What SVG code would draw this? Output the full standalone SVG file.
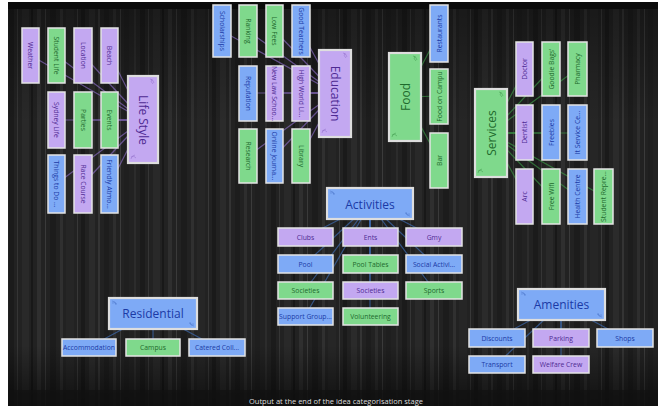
<svg xmlns="http://www.w3.org/2000/svg" width="662" height="410" viewBox="0 0 662 410">
<defs>
<pattern id="wood" x="0" y="0" width="131" height="410" patternUnits="userSpaceOnUse">
<rect width="131" height="410" fill="#222"/>
<rect x="3" width="2" height="410" fill="#2c2c2c"/>
<rect x="9" width="5" height="410" fill="#1b1b1b"/>
<rect x="17" width="1" height="410" fill="#353535"/>
<rect x="22" width="7" height="410" fill="#292929"/>
<rect x="31" width="2" height="410" fill="#181818"/>
<rect x="37" width="4" height="410" fill="#2f2f2f"/>
<rect x="45" width="1" height="410" fill="#3a3a3a"/>
<rect x="50" width="6" height="410" fill="#1c1c1c"/>
<rect x="60" width="3" height="410" fill="#303030"/>
<rect x="66" width="8" height="410" fill="#262626"/>
<rect x="77" width="1" height="410" fill="#383838"/>
<rect x="81" width="4" height="410" fill="#1a1a1a"/>
<rect x="89" width="6" height="410" fill="#2b2b2b"/>
<rect x="98" width="2" height="410" fill="#343434"/>
<rect x="104" width="5" height="410" fill="#1d1d1d"/>
<rect x="113" width="3" height="410" fill="#2e2e2e"/>
<rect x="120" width="1" height="410" fill="#3b3b3b"/>
<rect x="124" width="5" height="410" fill="#1f1f1f"/>
</pattern>
<linearGradient id="shade" x1="0" y1="0" x2="0" y2="1">
<stop offset="0" stop-color="#000" stop-opacity="0.35"/>
<stop offset="0.3" stop-color="#000" stop-opacity="0"/>
<stop offset="0.85" stop-color="#000" stop-opacity="0"/>
<stop offset="1" stop-color="#000" stop-opacity="0.55"/>
</linearGradient>
</defs>
<style>
.n rect{stroke:#e4e4e4;stroke-width:1.5}
.c rect{stroke:#dedede;stroke-width:2.2}
.p rect{fill:#c3a8f1}.p text{fill:#4e2a93}
.g rect{fill:#7fd98c}.g text{fill:#1e6a2c}
.b rect{fill:#7eaaf6}.b text{fill:#1b3aa6}
text{font-family:"Open Sans","Liberation Sans",sans-serif;text-anchor:middle;dominant-baseline:central}
.n text{font-size:6.8px}
.c text{font-size:12px}
.orn{fill:none;stroke-width:0.7;opacity:0.7}
.p .orn{stroke:#8e6cc8}.g .orn{stroke:#3f9a4c}.b .orn{stroke:#4a74c8}
.lp{stroke:#8a6cc4;stroke-opacity:0.65;stroke-width:1.2}
.lg{stroke:#3c9a47;stroke-opacity:0.65;stroke-width:1.2}
.lb{stroke:#3f6fb8;stroke-opacity:0.65;stroke-width:1.2}
</style>
<rect width="662" height="410" fill="#ffffff"/>
<rect x="8" y="2" width="650" height="404" fill="url(#wood)"/>
<rect x="8" y="2" width="650" height="404" fill="url(#shade)"/>
<rect x="8" y="2" width="650" height="7" fill="#0b0b0b"/>
<rect x="8" y="390" width="650" height="16" fill="#111" opacity="0.7"/>

<g id="connectors">
<g class="lp">
<line x1="143" y1="120" x2="30" y2="55"/><line x1="143" y1="120" x2="56" y2="55"/><line x1="143" y1="120" x2="83" y2="55"/><line x1="143" y1="120" x2="110" y2="55"/>
<line x1="143" y1="120" x2="56" y2="120"/><line x1="143" y1="120" x2="83" y2="120"/><line x1="143" y1="120" x2="110" y2="120"/>
<line x1="143" y1="120" x2="56" y2="184"/><line x1="143" y1="120" x2="83" y2="184"/><line x1="143" y1="120" x2="110" y2="184"/>
<line x1="335" y1="93" x2="222" y2="31"/><line x1="335" y1="93" x2="248" y2="31"/><line x1="335" y1="93" x2="275" y2="31"/><line x1="335" y1="93" x2="301" y2="31"/>
<line x1="335" y1="93" x2="248" y2="93"/><line x1="335" y1="93" x2="275" y2="93"/><line x1="335" y1="93" x2="301" y2="93"/>
<line x1="335" y1="93" x2="248" y2="156"/><line x1="335" y1="93" x2="275" y2="156"/><line x1="335" y1="93" x2="301" y2="156"/>
</g>
<g class="lg">
<line x1="405" y1="97" x2="439" y2="33"/><line x1="405" y1="97" x2="439" y2="96"/><line x1="405" y1="97" x2="439" y2="160"/>
<line x1="491" y1="133" x2="525" y2="69"/><line x1="491" y1="133" x2="551" y2="69"/><line x1="491" y1="133" x2="577" y2="69"/>
<line x1="491" y1="133" x2="525" y2="133"/><line x1="491" y1="133" x2="551" y2="133"/><line x1="491" y1="133" x2="577" y2="133"/>
<line x1="491" y1="133" x2="525" y2="196"/><line x1="491" y1="133" x2="551" y2="196"/><line x1="491" y1="133" x2="577" y2="196"/><line x1="491" y1="133" x2="603" y2="196"/>
</g>
<g class="lb">
<line x1="370" y1="204" x2="305" y2="237"/><line x1="370" y1="204" x2="370" y2="237"/><line x1="370" y1="204" x2="434" y2="237"/>
<line x1="370" y1="204" x2="305" y2="264"/><line x1="370" y1="204" x2="370" y2="264"/><line x1="370" y1="204" x2="434" y2="264"/>
<line x1="370" y1="204" x2="305" y2="290"/><line x1="370" y1="204" x2="370" y2="290"/><line x1="370" y1="204" x2="434" y2="290"/>
<line x1="370" y1="204" x2="305" y2="316"/><line x1="370" y1="204" x2="370" y2="316"/>
<line x1="153" y1="313" x2="89" y2="347"/><line x1="153" y1="313" x2="153" y2="347"/><line x1="153" y1="313" x2="217" y2="347"/>
<line x1="561" y1="304" x2="497" y2="338"/><line x1="561" y1="304" x2="561" y2="338"/><line x1="561" y1="304" x2="625" y2="338"/>
<line x1="561" y1="304" x2="497" y2="364"/><line x1="561" y1="304" x2="561" y2="364"/>
</g>
</g>

<!-- Life Style -->
<g id="lifestyle" class="c p"><rect x="128" y="76" width="30" height="87"/><path class="orn" d="M150 79 q3 0 4 4 M152 79 q-2 3 1 5 M131 159 q0 -3 4 -4 M131 157 q3 -2 5 1"/><text transform="translate(143 120) rotate(90)">Life Style</text></g>
<g id="weather" class="n p"><rect x="22" y="28" width="17" height="55"/><text transform="translate(30.5 55.5) rotate(90)">Weather</text></g>
<g id="studentlife" class="n g"><rect x="48" y="28" width="17" height="55"/><text transform="translate(56.5 55.5) rotate(90)">Student Life</text></g>
<g id="location" class="n p"><rect x="74" y="28" width="18" height="55"/><text transform="translate(83 55.5) rotate(90)">Location</text></g>
<g id="beach" class="n p"><rect x="101" y="28" width="17" height="55"/><text transform="translate(109.5 55.5) rotate(90)">Beach</text></g>
<g id="sydneylife" class="n p"><rect x="48" y="92" width="17" height="56"/><text transform="translate(56.5 120) rotate(90)">Sydney Life</text></g>
<g id="parties" class="n g"><rect x="74" y="92" width="18" height="56"/><text transform="translate(83 120) rotate(90)">Parties</text></g>
<g id="events" class="n g"><rect x="101" y="92" width="17" height="56"/><text transform="translate(109.5 120) rotate(90)">Events</text></g>
<g id="thingstodo" class="n b"><rect x="48" y="155" width="17" height="58"/><text transform="translate(56.5 184) rotate(90)">Things to Do ...</text></g>
<g id="racecourse" class="n p"><rect x="74" y="155" width="18" height="58"/><text transform="translate(83 184) rotate(90)">Race Course</text></g>
<g id="friendly" class="n b"><rect x="101" y="155" width="17" height="58"/><text transform="translate(109.5 184) rotate(90)">Friendly Atmo...</text></g>

<!-- Education -->
<g id="education" class="c p"><rect x="319" y="50" width="32" height="87"/><path class="orn" d="M343 53 q3 0 4 4 M345 53 q-2 3 1 5 M322 133 q0 -3 4 -4 M322 131 q3 -2 5 1"/><text transform="translate(335 93.5) rotate(90)">Education</text></g>
<g id="scholarships" class="n b"><rect x="213" y="5" width="18" height="52"/><text transform="translate(222 31) rotate(90)">Scholarships</text></g>
<g id="ranking" class="n g"><rect x="239" y="5" width="18" height="52"/><text transform="translate(248 31) rotate(90)">Ranking</text></g>
<g id="lowfees" class="n g"><rect x="266" y="5" width="17" height="52"/><text transform="translate(274.5 31) rotate(90)">Low Fees</text></g>
<g id="goodteachers" class="n b"><rect x="292" y="5" width="18" height="52"/><text transform="translate(301 31) rotate(90)">Good Teachers</text></g>
<g id="reputation" class="n b"><rect x="239" y="66" width="18" height="55"/><text transform="translate(248 93.5) rotate(90)">Reputation</text></g>
<g id="newlaw" class="n p"><rect x="266" y="66" width="17" height="55"/><text transform="translate(274.5 93.5) rotate(90)">New Law Schoo...</text></g>
<g id="highworld" class="n p"><rect x="292" y="66" width="18" height="55"/><text transform="translate(301 93.5) rotate(90)">High World Li...</text></g>
<g id="research" class="n g"><rect x="239" y="129" width="18" height="54"/><text transform="translate(248 156) rotate(90)">Research</text></g>
<g id="onlinejournal" class="n b"><rect x="266" y="129" width="17" height="54"/><text transform="translate(274.5 156) rotate(90)">Online Journa...</text></g>
<g id="library" class="n g"><rect x="292" y="129" width="18" height="54"/><text transform="translate(301 156) rotate(90)">Library</text></g>

<!-- Food -->
<g id="food" class="c g"><rect x="389" y="53" width="32" height="88"/><path class="orn" d="M413 56 q3 0 4 4 M415 56 q-2 3 1 5 M392 137 q0 -3 4 -4 M392 135 q3 -2 5 1"/><text transform="translate(405 97) rotate(-90)">Food</text></g>
<g id="restaurants" class="n b"><rect x="430" y="5" width="18" height="57"/><text transform="translate(439 33.5) rotate(-90)">Restaurants</text></g>
<g id="foodoncampus" class="n g"><rect x="430" y="69" width="18" height="55"/><text transform="translate(439 96.5) rotate(-90)">Food on Campu</text></g>
<g id="bar" class="n g"><rect x="430" y="133" width="18" height="55"/><text transform="translate(439 160.5) rotate(-90)">Bar</text></g>

<!-- Services -->
<g id="services" class="c g"><rect x="475" y="89" width="32" height="88"/><path class="orn" d="M499 92 q3 0 4 4 M501 92 q-2 3 1 5 M478 173 q0 -3 4 -4 M478 171 q3 -2 5 1"/><text transform="translate(491 133) rotate(-90)">Services</text></g>
<g id="doctor" class="n p"><rect x="516" y="42" width="17" height="54"/><text transform="translate(524.5 69) rotate(-90)">Doctor</text></g>
<g id="goodiebags" class="n g"><rect x="542" y="42" width="18" height="54"/><text transform="translate(551 69) rotate(-90)">Goodie Bags'</text></g>
<g id="pharmacy" class="n g"><rect x="568" y="42" width="19" height="54"/><text transform="translate(577.5 69) rotate(-90)">Pharmacy</text></g>
<g id="dentist" class="n p"><rect x="516" y="105" width="17" height="55"/><text transform="translate(524.5 132.5) rotate(-90)">Dentist</text></g>
<g id="freebies" class="n b"><rect x="542" y="105" width="18" height="55"/><text transform="translate(551 132.5) rotate(-90)">Freebies</text></g>
<g id="itservice" class="n b"><rect x="568" y="105" width="19" height="55"/><text transform="translate(577.5 132.5) rotate(-90)">It Service Ce...</text></g>
<g id="arc" class="n p"><rect x="516" y="169" width="17" height="55"/><text transform="translate(524.5 196.5) rotate(-90)">Arc</text></g>
<g id="freewifi" class="n g"><rect x="542" y="169" width="18" height="55"/><text transform="translate(551 196.5) rotate(-90)">Free Wifi</text></g>
<g id="healthcentre" class="n b"><rect x="568" y="169" width="19" height="55"/><text transform="translate(577.5 196.5) rotate(-90)">Health Centre</text></g>
<g id="studentrep" class="n g"><rect x="594" y="169" width="19" height="55"/><text transform="translate(603.5 196.5) rotate(-90)">Student Repre...</text></g>

<!-- Activities -->
<g id="activities" class="c b"><rect x="327" y="188" width="86" height="31"/><path class="orn" d="M330 191 q4 0 4 4 M330 193 q3 -1 5 1 M410 216 q-4 0 -4 -4 M410 214 q-3 1 -5 -1"/><text x="370" y="204">Activities</text></g>
<g id="clubs" class="n p"><rect x="278" y="228" width="55" height="18"/><text x="305.5" y="237">Clubs</text></g>
<g id="ents" class="n p"><rect x="343" y="228" width="55" height="18"/><text x="370.5" y="237">Ents</text></g>
<g id="gmy" class="n p"><rect x="406" y="228" width="56" height="18"/><text x="434" y="237">Gmy</text></g>
<g id="pool" class="n b"><rect x="278" y="255" width="55" height="18"/><text x="305.5" y="264">Pool</text></g>
<g id="pooltables" class="n g"><rect x="343" y="255" width="55" height="18"/><text x="370.5" y="264">Pool Tables</text></g>
<g id="socialactivities" class="n b"><rect x="406" y="255" width="56" height="18"/><text x="434" y="264">Social Activi...</text></g>
<g id="societies1" class="n g"><rect x="278" y="282" width="55" height="17"/><text x="305.5" y="290.5">Societies</text></g>
<g id="societies2" class="n p"><rect x="343" y="282" width="55" height="17"/><text x="370.5" y="290.5">Societies</text></g>
<g id="sports" class="n g"><rect x="406" y="282" width="56" height="17"/><text x="434" y="290.5">Sports</text></g>
<g id="supportgroup" class="n b"><rect x="278" y="308" width="55" height="17"/><text x="305.5" y="316.5">Support Group...</text></g>
<g id="volunteering" class="n g"><rect x="343" y="308" width="55" height="17"/><text x="370.5" y="316.5">Volunteering</text></g>

<!-- Residential -->
<g id="residential" class="c b"><rect x="109" y="298" width="88" height="31"/><path class="orn" d="M112 301 q4 0 4 4 M112 303 q3 -1 5 1 M194 326 q-4 0 -4 -4 M194 324 q-3 1 -5 -1"/><text x="153" y="313.5">Residential</text></g>
<g id="accommodation" class="n b"><rect x="62" y="339" width="54" height="17"/><text x="89" y="347.5">Accommodation</text></g>
<g id="campus" class="n g"><rect x="126" y="339" width="54" height="17"/><text x="153" y="347.5">Campus</text></g>
<g id="catered" class="n b"><rect x="189" y="339" width="56" height="17"/><text x="217" y="347.5">Catered  Coll...</text></g>

<!-- Amenities -->
<g id="amenities" class="c b"><rect x="518" y="289" width="87" height="31"/><path class="orn" d="M521 292 q4 0 4 4 M521 294 q3 -1 5 1 M602 317 q-4 0 -4 -4 M602 315 q-3 1 -5 -1"/><text x="561.5" y="304.5">Amenities</text></g>
<g id="discounts" class="n b"><rect x="469" y="329" width="56" height="18"/><text x="497" y="338">Discounts</text></g>
<g id="parking" class="n p"><rect x="533" y="329" width="56" height="18"/><text x="561" y="338">Parking</text></g>
<g id="shops" class="n b"><rect x="597" y="329" width="56" height="18"/><text x="625" y="338">Shops</text></g>
<g id="transport" class="n b"><rect x="469" y="356" width="56" height="17"/><text x="497" y="364.5">Transport</text></g>
<g id="welfarecrew" class="n p"><rect x="533" y="356" width="56" height="17"/><text x="561" y="364.5">Welfare Crew</text></g>

<text x="336" y="401" style="font-size:7.5px;fill:#dcdcdc">Output at the end of the idea categorisation stage</text>
</svg>
